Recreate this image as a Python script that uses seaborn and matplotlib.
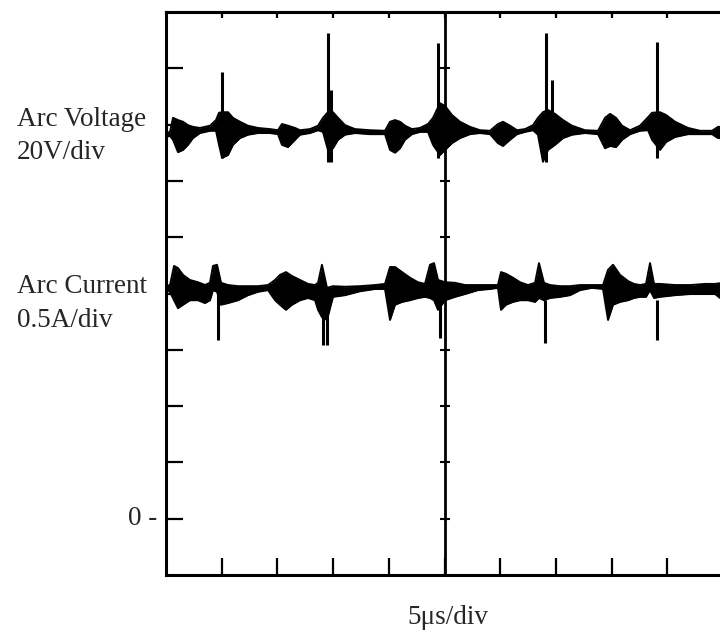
import numpy as np
import pandas as pd
import matplotlib
matplotlib.use("Agg")
import matplotlib.pyplot as plt
import matplotlib.transforms as mtransforms
import seaborn as sns

# time axis in microseconds (5 us/div, 10 div), vertical in screen divisions
voltTime = [0, 0.36, 0.63, 1.08, 1.53, 1.97, 2.42, 3.05, 3.95, 4.49, 4.76, 5.03, 5.57, 6.01,
            6.64, 7.36, 8.26, 9.34, 10.05, 10.41, 10.95, 11.58, 12.03, 12.93, 13.65, 14.09,
            14.54, 14.99, 15.44, 16.07, 16.97, 18.31, 19.66, 20.11, 20.56, 21.01, 21.45,
            22.08, 22.80, 23.52, 23.97, 24.60, 25.05, 25.67, 26.39, 27.29, 28.19, 29.09,
            29.80, 30.25, 30.88, 31.51, 32.23, 32.95, 33.39, 33.84, 34.29, 34.92, 35.64,
            36.45, 37.61, 38.78, 39.41, 39.86, 40.40, 40.94, 41.66, 42.55, 43.27, 43.63,
            44.35, 44.89, 45.70, 46.87, 47.94, 49.02, 49.56, 50.0]
voltTop = [7.85, 7.87, 8.12, 8.08, 8.05, 7.99, 7.96, 7.94, 7.98, 8.08, 8.21, 8.22, 8.22, 8.12,
           8.05, 7.98, 7.94, 7.92, 7.90, 8.01, 7.98, 7.94, 7.90, 7.92, 7.98, 8.12,
           8.22, 8.22, 8.12, 7.99, 7.92, 7.90, 7.89, 8.05, 8.08, 8.05, 7.98,
           7.92, 7.94, 8.01, 8.12, 8.38, 8.33, 8.17, 8.05, 7.96, 7.90, 7.89,
           8.01, 8.05, 7.98, 7.90, 7.92, 7.99, 8.12, 8.22, 8.26, 8.19, 8.08,
           7.98, 7.90, 7.89, 8.12, 8.19, 8.12, 7.98, 7.90, 7.98, 8.13, 8.21,
           8.22, 8.17, 8.05, 7.94, 7.89, 7.89, 7.96, 7.96]
voltBot = [7.78, 7.80, 7.73, 7.51, 7.55, 7.64, 7.76, 7.85, 7.89, 7.89, 7.64, 7.41, 7.46, 7.64,
           7.76, 7.82, 7.85, 7.85, 7.83, 7.64, 7.60, 7.73, 7.82, 7.85, 7.90, 7.87,
           7.55, 7.58, 7.73, 7.82, 7.85, 7.83, 7.83, 7.55, 7.50, 7.58, 7.73,
           7.83, 7.87, 7.87, 7.64, 7.46, 7.55, 7.67, 7.76, 7.83, 7.85, 7.83,
           7.67, 7.62, 7.73, 7.83, 7.87, 7.90, 7.82, 7.34, 7.55, 7.64, 7.76,
           7.82, 7.85, 7.83, 7.58, 7.62, 7.60, 7.73, 7.83, 7.89, 7.90, 7.73,
           7.55, 7.69, 7.78, 7.83, 7.83, 7.83, 7.76, 7.76]

voltSpikeTime = [5.03, 14.54, 14.81, 24.42, 34.11, 34.65, 44.08]
voltSpikeTop = [8.93, 9.63, 8.61, 9.45, 9.63, 8.79, 9.47]
voltSpikeBot = [7.41, 7.34, 7.34, 7.41, 7.34, 8.08, 7.41]

currTime = [0, 0.36, 0.72, 1.08, 1.53, 2.15, 2.87, 3.50, 3.95, 4.22, 4.58, 4.94, 5.57, 6.46,
            7.36, 8.26, 9.16, 9.79, 10.23, 10.77, 11.31, 12.03, 12.75, 13.38, 13.65, 14.00,
            14.45, 14.99, 16.07, 17.42, 18.76, 19.66, 20.11, 20.56, 21.19, 21.90, 22.62,
            23.25, 23.70, 24.06, 24.42, 25.05, 25.94, 26.84, 28.01, 29.09, 29.80, 30.07,
            30.52, 31.15, 31.78, 32.50, 33.13, 33.48, 33.93, 34.47, 35.37, 36.27, 37.17,
            38.24, 39.23, 39.68, 40.13, 40.76, 41.48, 42.01, 42.55, 43.09, 43.45, 43.81,
            44.35, 45.70, 47.05, 48.39, 49.29, 50.0]
currTop = [5.13, 5.15, 5.49, 5.45, 5.33, 5.24, 5.20, 5.15, 5.19, 5.49, 5.51, 5.19, 5.15, 5.13,
           5.13, 5.13, 5.15, 5.24, 5.33, 5.38, 5.31, 5.24, 5.17, 5.15, 5.19, 5.51,
           5.10, 5.13, 5.12, 5.13, 5.15, 5.17, 5.47, 5.47, 5.38, 5.28, 5.20,
           5.17, 5.51, 5.54, 5.24, 5.20, 5.19, 5.15, 5.15, 5.15, 5.15, 5.38,
           5.35, 5.28, 5.20, 5.15, 5.19, 5.54, 5.19, 5.15, 5.13, 5.13, 5.15,
           5.15, 5.15, 5.42, 5.51, 5.33, 5.22, 5.17, 5.15, 5.17, 5.54, 5.17,
           5.17, 5.15, 5.15, 5.17, 5.17, 5.19]
currBot = [5.06, 5.03, 4.88, 4.74, 4.80, 4.88, 4.88, 4.83, 4.88, 5.06, 5.03, 4.80, 4.83, 4.88,
           4.97, 5.03, 5.06, 4.88, 4.80, 4.71, 4.80, 4.88, 4.92, 4.88, 4.71, 4.58,
           4.53, 4.94, 4.97, 5.04, 5.08, 5.08, 4.53, 4.80, 4.85, 4.88, 4.92,
           4.94, 4.92, 4.88, 4.71, 4.88, 4.94, 4.99, 5.06, 5.08, 5.10, 4.71,
           4.80, 4.85, 4.88, 4.88, 4.85, 4.92, 4.88, 4.92, 4.94, 4.97, 5.06,
           5.10, 5.08, 4.53, 4.80, 4.85, 4.88, 4.92, 4.94, 4.94, 5.06, 4.92,
           4.94, 4.97, 4.99, 4.99, 4.99, 4.88]

currSpikeTime = [4.67, 14.09, 14.45, 24.60, 34.02, 44.08]
currSpikeTop = [5.06, 4.88, 4.88, 4.88, 4.88, 4.88]
currSpikeBot = [4.17, 4.09, 4.09, 4.21, 4.12, 4.17]

xTicks = [5, 10, 15, 20, 25, 30, 35, 40, 45]
yTicks = [1, 2, 3, 4, 5, 6, 7, 8, 9]
centerMarks = [1, 2, 3, 4, 6, 7, 9]

sns.set_style("white")
plt.rcParams['font.family'] = ['Liberation Serif', 'DejaVu Serif']

fig = plt.figure(figsize=(7.2, 6.34), dpi=100)
ax = fig.add_axes([166 / 720, 59 / 634, 557 / 720, 563 / 634])

volt = pd.DataFrame({'t': voltTime, 'top': voltTop, 'bot': voltBot})
curr = pd.DataFrame({'t': currTime, 'top': currTop, 'bot': currBot})

for df in [volt, curr]:
    ax.fill_between(df['t'], df['bot'], df['top'], color='black', lw=0)
    sns.lineplot(data=df, x='t', y='top', color='black', lw=1.4, estimator=None, ax=ax)
    sns.lineplot(data=df, x='t', y='bot', color='black', lw=1.4, estimator=None, ax=ax)

ax.vlines(voltSpikeTime, voltSpikeBot, voltSpikeTop, color='black', lw=2.2)
ax.vlines(currSpikeTime, currSpikeBot, currSpikeTop, color='black', lw=2.2)

# centre graticule line
ax.axvline(25, color='black', lw=2)
ax.plot([25] * len(centerMarks), centerMarks, ls='none', marker='_', ms=7, mew=1.5, color='black')

ax.set_xlim(0, 50)
ax.set_ylim(0, 10)
ax.set_xticks(xTicks)
ax.set_yticks(yTicks)
ax.set_xticklabels([])
ax.set_yticklabels([])
ax.set_xlabel('')
ax.set_ylabel('')
ax.tick_params(axis='both', direction='in', length=12, width=1.6, color='black',
               bottom=True, left=True, top=False, right=False)

top = ax.secondary_xaxis('top')
top.set_xticks(xTicks)
top.set_xticklabels([])
top.tick_params(direction='in', length=4, width=1.6, color='black')
top.spines['top'].set_linewidth(2.2)

for side in ['left', 'bottom', 'top']:
    ax.spines[side].set_visible(True)
    ax.spines[side].set_color('black')
    ax.spines[side].set_linewidth(2.2)
ax.spines['right'].set_visible(False)

fs = 19.5
trans = mtransforms.blended_transform_factory(ax.transAxes, ax.transData)
ax.text(-0.016, 1, '0 -', transform=trans, ha='right', va='center', fontsize=fs)

fig.text(17 / 720, 1 - 126 / 634, 'Arc Voltage', ha='left', va='baseline', fontsize=fs)
fig.text(17 / 720, 1 - 159 / 634, '20V/div', ha='left', va='baseline', fontsize=fs)
fig.text(17 / 720, 1 - 293 / 634, 'Arc Current', ha='left', va='baseline', fontsize=fs)
fig.text(17 / 720, 1 - 327 / 634, '0.5A/div', ha='left', va='baseline', fontsize=fs)
fig.text(448 / 720, 1 - 618 / 634, '5\u03bcs/div', ha='center', va='center', fontsize=fs)

fig.savefig('out.png', dpi=100, facecolor='white')
